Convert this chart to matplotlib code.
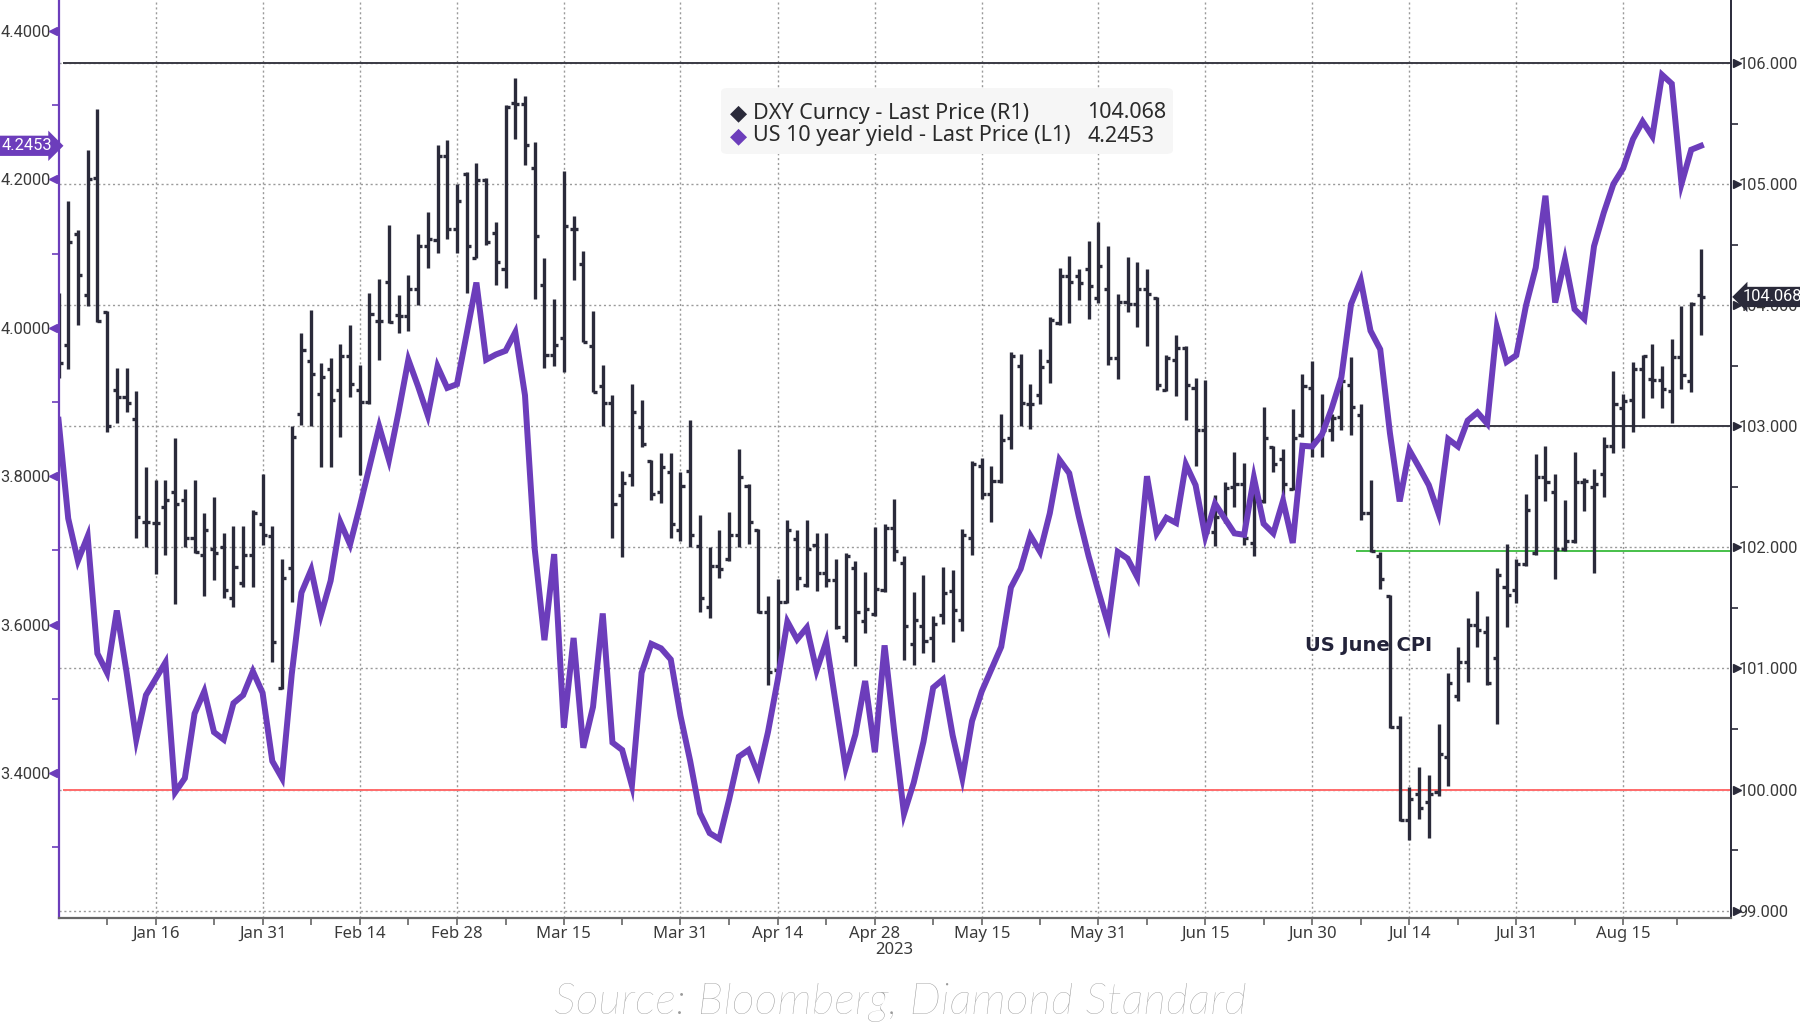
import matplotlib
matplotlib.use('Agg')
import matplotlib.pyplot as plt
import matplotlib.transforms as mtransforms
from matplotlib.patches import FancyBboxPatch
import numpy as np
import pandas as pd

plt.rcParams['font.family'] = ['Noto Sans', 'DejaVu Sans']

# ---- data (one value per weekday, starting 2 Jan 2023) ----
start_date = '2023-01-02'

us10y = [3.876, 3.743, 3.686, 3.719, 3.561, 3.535, 3.619, 3.536, 3.445, 3.505,
         3.527, 3.549, 3.374, 3.393, 3.480, 3.510, 3.455, 3.445, 3.494, 3.505,
         3.537, 3.508, 3.416, 3.393, 3.533, 3.643, 3.674, 3.613, 3.659, 3.738,
         3.708, 3.759, 3.813, 3.867, 3.822, 3.887, 3.957, 3.921, 3.882, 3.948,
         3.919, 3.924, 3.992, 4.061, 3.957, 3.964, 3.969, 3.994, 3.909, 3.702,
         3.579, 3.695, 3.461, 3.582, 3.434, 3.489, 3.615, 3.441, 3.431, 3.383,
         3.535, 3.574, 3.568, 3.553, 3.477, 3.416, 3.346, 3.319, 3.311, 3.364,
         3.422, 3.431, 3.398, 3.455, 3.525, 3.604, 3.580, 3.596, 3.538, 3.577,
         3.492, 3.407, 3.452, 3.524, 3.428, 3.572, 3.455, 3.345, 3.387, 3.442,
         3.515, 3.526, 3.451, 3.393, 3.470, 3.510, 3.540, 3.570, 3.650, 3.675,
         3.720, 3.698, 3.750, 3.822, 3.804, 3.745, 3.692, 3.645, 3.600, 3.698,
         3.689, 3.664, 3.800, 3.723, 3.744, 3.737, 3.816, 3.788, 3.719, 3.763,
         3.743, 3.723, 3.721, 3.798, 3.736, 3.723, 3.767, 3.710, 3.841, 3.840,
         3.856, 3.891, 3.933, 4.032, 4.064, 3.996, 3.971, 3.858, 3.766, 3.835,
         3.812, 3.788, 3.750, 3.850, 3.840, 3.875, 3.886, 3.871, 4.001, 3.954,
         3.963, 4.030, 4.081, 4.178, 4.034, 4.092, 4.025, 4.012, 4.110, 4.155,
         4.194, 4.215, 4.254, 4.278, 4.258, 4.341, 4.329, 4.194, 4.240, 4.2453]

dxy_open = [103.52, 103.67, 104.59, 104.08, 105.05, 103.94, 103.30, 103.24, 103.06, 102.21,
            102.20, 102.33, 102.46, 102.39, 102.08, 101.94, 101.99, 102.00, 101.58, 101.71,
            101.94, 102.19, 102.09, 100.84, 101.83, 103.10, 103.54, 103.27, 103.47, 103.30,
            103.58, 103.30, 103.20, 103.87, 104.19, 103.92, 103.91, 104.13, 104.49, 104.54,
            105.23, 104.63, 105.08, 104.39, 105.03, 104.60, 104.30, 105.67, 105.66, 105.13,
            104.17, 103.59, 103.73, 104.63, 104.34, 103.66, 103.33, 103.19, 102.43, 102.60,
            102.99, 102.71, 102.46, 102.62, 102.14, 102.63, 102.01, 101.51, 101.85, 101.90,
            102.10, 102.51, 102.14, 101.47, 100.99, 101.55, 102.07, 101.69, 102.02, 101.79,
            101.73, 101.26, 101.83, 101.39, 101.45, 101.65, 102.16, 101.87, 101.20, 101.35,
            101.25, 101.44, 101.64, 101.40, 102.08, 102.67, 102.44, 102.55, 102.90, 103.50,
            103.18, 103.26, 103.54, 103.85, 104.24, 104.24, 104.30, 104.06, 104.13, 103.56,
            104.03, 104.01, 104.13, 104.06, 103.30, 103.55, 103.65, 103.32, 102.97, 102.13,
            102.28, 102.50, 102.52, 102.04, 102.38, 102.83, 102.73, 102.48, 102.93, 103.32,
            102.93, 102.97, 103.08, 103.34, 103.09, 102.28, 101.93, 101.60, 100.52, 99.75,
            99.96, 99.90, 99.98, 100.27, 100.77, 101.05, 101.36, 101.30, 101.09, 101.67,
            101.65, 101.86, 101.95, 102.58, 102.46, 101.99, 102.05, 102.54, 102.50, 102.61,
            102.84, 103.15, 103.22, 103.47, 103.39, 103.38, 103.29, 103.57, 103.37, 104.08]

dxy_high = [104.10, 104.86, 104.62, 105.28, 105.62, 103.95, 103.48, 103.48, 103.29, 102.66,
            102.56, 102.56, 102.90, 102.48, 102.56, 102.28, 102.42, 102.12, 102.18, 102.18,
            102.31, 102.61, 102.18, 101.90, 103.00, 103.77, 103.96, 103.52, 103.56, 103.68,
            103.84, 103.51, 104.10, 104.22, 104.66, 104.08, 104.25, 104.59, 104.77, 105.32,
            105.36, 105.00, 105.10, 105.17, 105.05, 104.69, 105.65, 105.88, 105.73, 105.35,
            104.39, 104.05, 105.11, 104.74, 104.45, 103.95, 103.51, 103.26, 102.63, 103.35,
            103.22, 102.72, 102.78, 102.78, 102.62, 103.05, 102.27, 102.00, 102.14, 102.29,
            102.81, 102.52, 102.15, 101.60, 101.74, 102.23, 102.14, 102.23, 102.12, 102.12,
            101.90, 101.95, 101.89, 101.80, 102.17, 102.19, 102.40, 101.93, 101.63, 101.77,
            101.43, 101.84, 101.81, 102.15, 102.71, 102.74, 102.67, 103.10, 103.61, 103.60,
            103.35, 103.64, 103.90, 104.31, 104.41, 104.30, 104.53, 104.69, 104.49, 104.09,
            104.40, 104.36, 104.30, 104.07, 103.59, 103.75, 103.66, 103.40, 103.38, 102.43,
            102.54, 102.79, 102.70, 102.58, 103.16, 102.84, 102.81, 103.14, 103.43, 103.54,
            103.27, 103.10, 103.38, 103.57, 103.18, 102.56, 101.96, 101.61, 100.61, 100.02,
            100.19, 100.12, 100.54, 100.96, 101.18, 101.42, 101.64, 101.43, 101.83, 102.03,
            101.90, 102.44, 102.77, 102.84, 102.61, 102.39, 102.79, 102.57, 102.65, 102.91,
            103.46, 103.27, 103.53, 103.59, 103.68, 103.50, 103.72, 103.99, 104.03, 104.46]

dxy_low = [103.40, 103.47, 103.84, 103.99, 103.86, 102.95, 103.03, 103.12, 102.08, 102.00,
           101.78, 101.94, 101.53, 102.00, 101.95, 101.60, 101.73, 101.58, 101.51, 101.67,
           101.67, 102.02, 101.05, 100.83, 101.55, 103.01, 103.00, 102.66, 102.66, 102.91,
           103.24, 102.60, 103.18, 103.55, 103.85, 103.77, 103.79, 104.00, 104.31, 104.43,
           104.55, 104.43, 104.10, 104.39, 104.50, 104.17, 104.14, 105.37, 105.16, 104.05,
           103.48, 103.50, 103.45, 104.21, 103.70, 103.28, 103.00, 102.08, 101.92, 102.51,
           102.83, 102.39, 102.37, 102.08, 102.05, 102.00, 101.47, 101.42, 101.75, 101.89,
           102.00, 102.03, 101.46, 100.86, 100.98, 101.54, 101.65, 101.67, 101.64, 101.67,
           101.33, 101.22, 101.02, 101.29, 101.43, 101.63, 101.89, 101.07, 101.03, 101.13,
           101.05, 101.37, 101.22, 101.31, 101.94, 102.40, 102.21, 102.53, 102.81, 103.00,
           102.98, 103.18, 103.36, 103.84, 103.85, 104.04, 103.89, 104.02, 103.51, 103.39,
           103.94, 103.82, 103.66, 103.30, 103.29, 103.25, 103.05, 102.67, 102.12, 102.01,
           102.20, 102.33, 102.02, 101.93, 102.37, 102.62, 102.41, 102.47, 102.91, 102.75,
           102.75, 102.88, 102.97, 102.93, 102.23, 101.96, 101.66, 100.51, 99.74, 99.58,
           99.76, 99.60, 99.95, 100.03, 100.73, 100.89, 101.18, 100.86, 100.54, 101.34,
           101.54, 101.85, 101.94, 102.38, 101.74, 101.97, 102.04, 102.30, 101.79, 102.42,
           102.78, 102.82, 102.95, 103.07, 103.23, 103.15, 103.03, 103.31, 103.28, 103.75]

dxy_close = [103.52, 104.52, 104.25, 105.04, 103.87, 103.00, 103.24, 103.19, 102.25, 102.21,
             102.20, 102.39, 102.36, 102.08, 101.96, 102.14, 101.95, 101.65, 101.84, 101.94,
             102.28, 102.10, 101.22, 101.75, 102.91, 103.63, 103.43, 103.41, 103.22, 103.58,
             103.35, 103.20, 103.93, 103.87, 103.86, 103.91, 104.13, 104.49, 104.55, 105.23,
             104.63, 104.86, 104.49, 105.03, 104.52, 104.36, 105.64, 105.66, 105.32, 104.57,
             103.59, 103.67, 104.65, 104.63, 103.70, 103.28, 103.19, 102.36, 102.53, 103.12,
             102.85, 102.44, 102.66, 102.19, 102.51, 102.10, 101.58, 101.85, 101.82, 102.10,
             102.58, 102.21, 101.47, 100.97, 101.55, 102.14, 101.75, 101.99, 101.79, 101.73,
             101.34, 101.93, 101.47, 101.49, 101.66, 102.16, 101.97, 101.35, 101.40, 101.23,
             101.37, 101.62, 101.48, 102.10, 102.69, 102.44, 102.55, 102.89, 103.58, 103.19,
             103.18, 103.49, 103.88, 104.24, 104.19, 104.18, 104.16, 104.32, 103.56, 104.03,
             104.01, 104.13, 104.09, 103.34, 103.56, 103.65, 103.34, 102.97, 102.13, 102.25,
             102.49, 102.52, 102.08, 102.38, 102.90, 102.69, 102.52, 102.90, 103.33, 102.89,
             102.97, 103.07, 103.37, 103.16, 102.28, 101.97, 101.74, 100.52, 99.75, 99.92,
             99.85, 99.96, 100.29, 100.88, 101.05, 101.36, 101.32, 100.88, 101.77, 101.61,
             101.86, 102.31, 102.58, 102.54, 101.99, 102.05, 102.54, 102.55, 102.52, 102.84,
             103.18, 103.21, 103.47, 103.58, 103.38, 103.31, 103.57, 103.42, 104.01, 104.068]

tick_dates = ['2023-01-16', '2023-01-31', '2023-02-14', '2023-02-28', '2023-03-15',
              '2023-03-31', '2023-04-14', '2023-04-28', '2023-05-15', '2023-05-31',
              '2023-06-15', '2023-06-30', '2023-07-14', '2023-07-31', '2023-08-15']
tick_labels = ['Jan 16', 'Jan 31', 'Feb 14', 'Feb 28', 'Mar 15', 'Mar 31', 'Apr 14',
               'Apr 28', 'May 15', 'May 31', 'Jun 15', 'Jun 30', 'Jul 14', 'Jul 31', 'Aug 15']

# horizontal level lines drawn on the DXY scale: (value, first date, colour)
level_lines = [(106.0, '2023-01-03', '#3a3a44'),
               (100.0, '2023-01-03', '#ff6b6b'),
               (101.97, '2023-07-07', '#46c04a'),
               (103.0, '2023-07-24', '#3a3a44')]

dxy_last = 104.068
us10y_last = 4.2453

# ---- colours ----
purple = '#6c3dbb'
navy = '#2a2a3a'
grid_c = '#9a9a9a'
txt_c = '#3a3a3a'
num_font = ['Roboto', 'DejaVu Sans']

dates = pd.bdate_range(start_date, periods=len(us10y))
x = np.arange(len(dates))
tick_pos = dates.get_indexer(pd.to_datetime(tick_dates))
minor_pos = (np.concatenate([[0], tick_pos[:-1]]) + tick_pos) / 2
minor_pos = np.append(np.round(minor_pos), tick_pos[-1] + 5.5)

fig = plt.figure(figsize=(18, 10.26), dpi=100)
ax = fig.add_axes([0.0325, 0.1053, 0.9292, 0.8947])
ax2 = ax.twinx()

# right axis: DXY bars + grid + level lines
for v in range(99, 107):
    ax2.axhline(v, color=grid_c, lw=1.0, ls=(0, (1.5, 2)), zorder=1)
for p in tick_pos:
    ax2.axvline(p, color=grid_c, lw=1.0, ls=(0, (1.5, 2)), zorder=1)

for val, d0, col in level_lines:
    i0 = dates.get_indexer([pd.Timestamp(d0)])[0]
    ax2.hlines(val, i0 - 0.5, 180, color=col, lw=1.4, zorder=2)

ax2.vlines(x, dxy_low, dxy_high, color=navy, lw=2.4, zorder=3)
ax2.hlines(dxy_open, x - 0.42, x, color=navy, lw=2.4, zorder=3)
ax2.hlines(dxy_close, x, x + 0.42, color=navy, lw=2.4, zorder=3)

ax2.set_ylim(98.94, 106.52)
ax2.set_yticks(np.arange(99, 107))
ax2.set_yticks(np.arange(99.5, 106, 1.0), minor=True)
ax2.set_yticklabels(['%.3f' % v for v in range(99, 107)], family=num_font)
ax2.tick_params(axis='y', which='major', length=0, pad=5.5, labelsize=11.8, labelcolor=txt_c)
ax2.tick_params(axis='y', which='minor', length=5, width=1.2, color=navy, direction='out')
ax2.plot(np.full(8, 1.0035), np.arange(99, 107), marker='>', ls='none', ms=6, color=navy,
         transform=mtransforms.blended_transform_factory(ax2.transAxes, ax2.transData),
         clip_on=False, zorder=5)

# left axis: US 10y yield line
ax.plot(x, us10y, color=purple, lw=4.3, solid_joinstyle='miter', zorder=4)
ax.set_ylim(3.2046, 4.4418)
ax.set_yticks(np.arange(3.4, 4.41, 0.2))
ax.set_yticks(np.arange(3.3, 4.31, 0.2), minor=True)
ax.set_yticklabels(['%.4f' % v for v in np.arange(3.4, 4.41, 0.2)], family=num_font)
ax.tick_params(axis='y', which='major', length=0, pad=5.5, labelsize=11.8, labelcolor=txt_c)
ax.tick_params(axis='y', which='minor', length=5, width=1.2, color=purple, direction='out')
ax.plot(np.full(6, -0.0035), np.arange(3.4, 4.41, 0.2), marker='<', ls='none', ms=6, color=purple,
        transform=mtransforms.blended_transform_factory(ax.transAxes, ax.transData),
        clip_on=False, zorder=5)

ax.set_xlim(0, 172.1)
ax.set_xticks(tick_pos)
ax.set_xticklabels(tick_labels)
ax.set_xticks(minor_pos, minor=True)
ax.tick_params(axis='x', which='both', length=5, width=1.2, color='#666666', direction='out',
               labelsize=12, labelcolor=txt_c, pad=1)

ax.set_zorder(ax2.get_zorder() + 1)
ax.patch.set_visible(False)

for s in ['top', 'right']:
    ax.spines[s].set_visible(False)
ax.spines['left'].set_color(purple)
ax.spines['left'].set_linewidth(1.6)
ax.spines['bottom'].set_color('#666666')
ax.spines['bottom'].set_linewidth(1.6)
for s in ['top', 'left', 'bottom']:
    ax2.spines[s].set_visible(False)
ax2.spines['right'].set_color(navy)
ax2.spines['right'].set_linewidth(1.4)

ax.text(dates.get_indexer([pd.Timestamp('2023-05-02')])[0], -0.026, '2023',
        transform=mtransforms.blended_transform_factory(ax.transData, ax.transAxes),
        ha='center', va='top', fontsize=12, color=txt_c)

# last value tags
ax.text(-0.0338, us10y_last, '%.4f' % us10y_last, color='white', fontsize=11.8,
        family=num_font, ha='left', va='center', zorder=10, clip_on=False,
        transform=mtransforms.blended_transform_factory(ax.transAxes, ax.transData),
        bbox=dict(boxstyle='rarrow,pad=0.16', fc=purple, ec='none'))
ax2.text(1.0072, dxy_last, '%.3f' % dxy_last, color='white', fontsize=11.8,
         family=num_font, ha='left', va='center', zorder=10, clip_on=False,
         transform=mtransforms.blended_transform_factory(ax2.transAxes, ax2.transData),
         bbox=dict(boxstyle='larrow,pad=0.16', fc=navy, ec='none'))

# annotation
ax2.text(dates.get_indexer([pd.Timestamp('2023-06-29')])[0] + 0.3, 101.19, 'US June CPI',
         fontsize=14, fontweight='bold', family=['DejaVu Sans'], color='#23233a',
         ha='left', va='center', zorder=6)

# legend box
W, H = 1800.0, 1026.0
fig.patches.append(FancyBboxPatch((721 / W, 1 - 154 / H), 452 / W, 66 / H,
                                  boxstyle='round,pad=0,rounding_size=0.004',
                                  transform=fig.transFigure, fc='#f6f6f6', ec='none', zorder=6))
rows = [('DXY Curncy - Last Price (R1)', '%.3f' % dxy_last, navy, 113),
        ('US 10 year yield - Last Price (L1)', '%.4f' % us10y_last, purple, 136)]
for label, val, col, yy in rows:
    fig.text(738 / W, 1 - yy / H, '\u25c6', color=col, fontsize=16, ha='center', va='center',
             family=['DejaVu Sans'], zorder=7)
    fig.text(753 / W, 1 - yy / H, label, color='#2a2a2a', fontsize=15.5, ha='left', va='center', zorder=7)
    fig.text(1087 / W, 1 - yy / H, val, color='#2a2a2a', fontsize=15.5, ha='left', va='center', zorder=7)

fig.text(0.5, 1 - 1002 / H, 'Source: Bloomberg, Diamond Standard', fontsize=32,
         style='italic', fontweight='light', family=['Lato', 'DejaVu Sans'],
         color='#9a9a9a', ha='center', va='center')

fig.savefig('out.png', dpi=100)
